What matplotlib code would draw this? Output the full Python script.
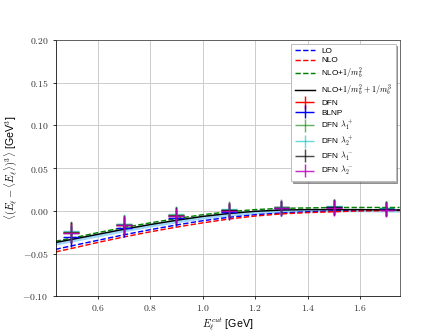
import matplotlib
matplotlib.use("Agg")
import matplotlib.pyplot as plt
import numpy as np
from matplotlib.ticker import FuncFormatter
from matplotlib.legend_handler import HandlerErrorbar
from matplotlib.container import ErrorbarContainer

plt.rcParams['mathtext.fontset'] = 'cm'
plt.rcParams['font.family'] = ['Liberation Sans', 'DejaVu Sans']

# curves
x_curve = [0.44, 0.5, 0.6, 0.7, 0.8, 0.9, 1.0, 1.1, 1.2, 1.3, 1.4, 1.5, 1.6, 1.75]
lo = [-0.045, -0.041, -0.0345, -0.028, -0.022, -0.0165, -0.0115, -0.0075, -0.0045, -0.0025, -0.001, 0.0, 0.0005, 0.001]
nlo = [-0.048, -0.044, -0.037, -0.0305, -0.0245, -0.019, -0.014, -0.0095, -0.006, -0.0035, -0.002, -0.001, 0.0, 0.0005]
nlo_mb2 = [-0.0355, -0.032, -0.0255, -0.0195, -0.014, -0.009, -0.0045, -0.001, 0.0015, 0.003, 0.0035, 0.004, 0.004, 0.004]
nlo_mb3 = [-0.037, -0.0335, -0.0275, -0.0215, -0.016, -0.011, -0.0065, -0.003, -0.0005, 0.001, 0.0015, 0.0015, 0.0015, 0.001]
band_lo = [-0.040, -0.0365, -0.0305, -0.0245, -0.019, -0.014, -0.0095, -0.006, -0.0035, -0.002, -0.0015, -0.001, -0.001, -0.0015]
band_hi = [-0.0355, -0.032, -0.026, -0.020, -0.0145, -0.0095, -0.005, -0.0015, 0.001, 0.0025, 0.003, 0.003, 0.003, 0.0025]

# points
x_pts = [0.5, 0.7, 0.9, 1.1, 1.3, 1.5, 1.7]
dfn = [-0.025, -0.016, -0.005, 0.001, 0.004, 0.0045, 0.0025]
blnp = [-0.030, -0.0195, -0.0085, -0.0015, 0.003, 0.004, 0.002]
dfn_l1p = [-0.0245, -0.0155, -0.0045, 0.0015, 0.0045, 0.005, 0.003]
dfn_l2p = [-0.024, -0.015, -0.004, 0.0022, 0.005, 0.0055, 0.0035]
dfn_l1m = [-0.0255, -0.0165, -0.0055, 0.0005, 0.0035, 0.004, 0.002]
dfn_l2m = [-0.026, -0.017, -0.006, 0.0, 0.003, 0.0035, 0.0015]
yerr = [0.012, 0.011, 0.0095, 0.009, 0.0085, 0.009, 0.0085]
xerr = 0.03

fig, ax = plt.subplots(figsize=(6.4, 4.8), dpi=69.375)

ax.fill_between(x_curve, band_lo, band_hi, color='lightskyblue', alpha=0.8, lw=0)
ax.plot(x_curve, lo, '--', color='blue', lw=1.5, label='LO')
ax.plot(x_curve, nlo, '--', color='red', lw=1.5, label='NLO')
ax.plot(x_curve, nlo_mb2, '--', color='green', lw=1.5, label=r'NLO+$1/m_b^2$')
ax.plot(x_curve, nlo_mb3, '-', color='black', lw=1.5, label=r'NLO+$1/m_b^2+1/m_b^3$')

series = [
    (dfn, 'red', 1.0, 'DFN'),
    (blnp, 'blue', 1.0, 'BLNP'),
    (dfn_l1p, 'green', 0.6, r'DFN $\lambda_1^+$'),
    (dfn_l2p, 'c', 0.6, r'DFN $\lambda_2^+$'),
    (dfn_l1m, 'black', 0.7, r'DFN $\lambda_1^-$'),
    (dfn_l2m, 'm', 0.85, r'DFN $\lambda_2^-$'),
]
for ys, c, a, lab in series:
    ax.errorbar(x_pts, ys, yerr=yerr, xerr=xerr, fmt='none', ecolor=c,
                alpha=a, elinewidth=1.5, label=lab)

ax.set_xlim(0.44, 1.75)
ax.set_ylim(-0.10, 0.20)
ax.set_xticks([0.6, 0.8, 1.0, 1.2, 1.4, 1.6])
ax.set_yticks([-0.10, -0.05, 0.0, 0.05, 0.10, 0.15, 0.20])
ax.xaxis.set_major_formatter(FuncFormatter(lambda v, p: r'$%.1f$' % v))
ax.yaxis.set_major_formatter(FuncFormatter(lambda v, p: r'$%.2f$' % v if abs(v) > 1e-9 else r'$0.00$'))
ax.grid(True, color='#cccccc', lw=1)
ax.set_axisbelow(True)
ax.tick_params(axis='both', colors='black', labelcolor='#333333', labelsize=10)
for s in ['top', 'right']:
    ax.spines[s].set_color('#444444')

ax.set_xlabel(r'$E_\ell^{cut}$ [GeV]', fontsize=11)
ax.set_ylabel(r'$\langle(E_\ell-\langle E_\ell\rangle)^3\rangle$ [GeV$^3$]', fontsize=11)

ax.legend(loc='upper right', fontsize=8.5, shadow=True, framealpha=1, fancybox=False,
          edgecolor='#bbbbbb', handlelength=2.45, labelspacing=0.2,
          handler_map={ErrorbarContainer: HandlerErrorbar(xerr_size=1.2, yerr_size=0.8)})

fig.savefig('out.png', dpi=69.375)
